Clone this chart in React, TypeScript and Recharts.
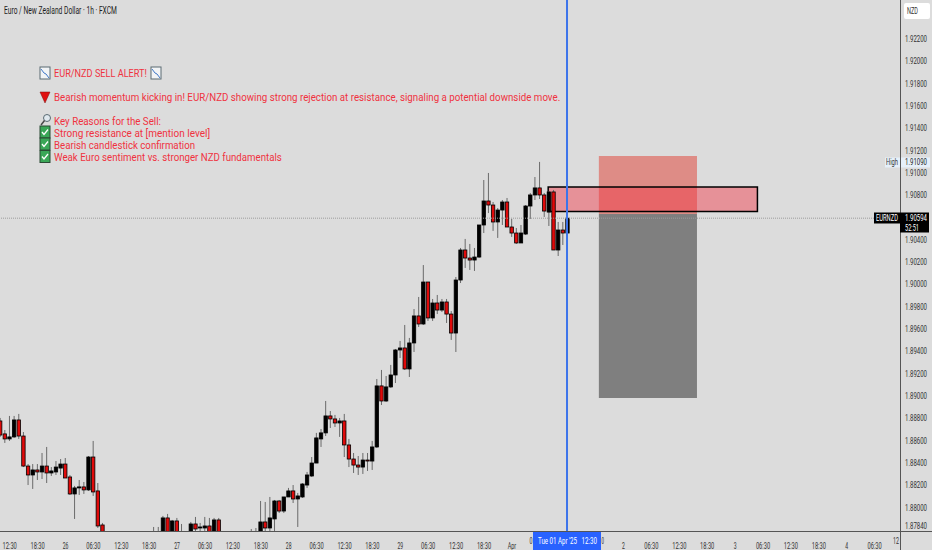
import React from "react";
import { ComposedChart, Bar, XAxis, YAxis, ReferenceArea, ReferenceLine } from "recharts";

const barIndexes = [
  0,1,2,3,4,5,6,7,8,9,10,11,12,13,14,15,16,17,18,19,20,21,22,
  33,34,35,36,37,38,39,
  41,42,43,44,45,46,47,
  54,55,56,57,58,59,60,61,62,63,64,65,66,67,68,69,70,71,72,73,74,75,76,77,78,79,80,
  81,82,83,84,85,86,87,88,89,90,91,92,93,94,95,96,97,98,99,100,101,102,
  103,104,105,106,107,108,109,110,111,112,113,114,115,116,117,118,119,120,121,122,
];
const opens = [
  1.88777,1.88661,1.88616,1.88634,1.88786,1.88642,1.88373,1.88293,1.88338,1.88320,1.88373,1.88311,1.88320,1.88355,1.88391,1.88275,1.88123,1.88177,1.88186,1.88159,1.88454,1.88150,1.87845,
  1.87660,1.87720,1.87740,1.87908,1.87760,1.87881,1.87760,
  1.87740,1.87854,1.87818,1.87818,1.87836,1.87740,1.87890,
  1.87700,1.87700,1.87740,1.87872,1.87818,1.87899,1.88060,1.87970,1.88096,1.88150,1.88078,1.88096,1.88203,1.88284,1.88400,1.88616,1.88670,1.88822,1.88795,1.88759,1.88777,1.88562,1.88436,1.88382,1.88364,1.88427,1.88418,
  1.88544,1.89091,1.88956,1.89082,1.89189,1.89413,1.89431,1.89243,1.89476,1.89718,1.89646,1.90022,1.89700,1.89834,1.89771,1.89843,1.89735,1.89565,1.90040,1.90309,1.90237,1.90219,
  1.90246,1.90533,1.90748,1.90712,1.90560,1.90667,1.90739,1.90515,1.90461,1.90372,1.90452,1.90703,1.90802,1.90865,1.90802,1.90649,1.90829,1.90309,1.90488,1.90461,
];
const highs = [
  1.88804,1.88696,1.88822,1.88822,1.88840,1.88678,1.88391,1.88391,1.88391,1.88490,1.88544,1.88364,1.88418,1.88436,1.88445,1.88293,1.88195,1.88248,1.88230,1.88463,1.88598,1.88221,1.87863,
  1.87827,1.87827,1.87926,1.87944,1.87890,1.87908,1.87854,
  1.87872,1.87917,1.87863,1.87917,1.87908,1.87908,1.87908,
  1.87809,1.87818,1.88060,1.88051,1.88096,1.88069,1.88069,1.88096,1.88177,1.88203,1.88132,1.88221,1.88320,1.88454,1.88670,1.88705,1.88956,1.88866,1.88831,1.88804,1.88840,1.88616,1.88490,1.88463,1.88490,1.88490,1.88598,
  1.89153,1.89234,1.89180,1.89279,1.89422,1.89494,1.89637,1.89521,1.89780,1.89888,1.90174,1.90022,1.89870,1.89906,1.89870,1.89870,1.89762,1.90067,1.90327,1.90408,1.90363,1.90327,
  1.90533,1.90936,1.90999,1.90739,1.90685,1.90757,1.90775,1.90587,1.90506,1.90533,1.90712,1.90820,1.90963,1.91098,1.90820,1.90838,1.90847,1.90560,1.90560,1.90594,
];
const lows = [
  1.88634,1.88580,1.88598,1.88625,1.88616,1.88364,1.88203,1.88168,1.88248,1.88257,1.88221,1.88284,1.88293,1.88293,1.88266,1.88114,1.87899,1.88114,1.88123,1.88150,1.88105,1.87818,1.87729,
  1.87650,1.87700,1.87700,1.87720,1.87740,1.87720,1.87700,
  1.87700,1.87700,1.87700,1.87700,1.87700,1.87720,1.87720,
  1.87680,1.87680,1.87700,1.87740,1.87740,1.87740,1.87952,1.87952,1.88096,1.88042,1.87827,1.88087,1.88177,1.88275,1.88400,1.88544,1.88642,1.88714,1.88723,1.88634,1.88454,1.88364,1.88311,1.88293,1.88302,1.88329,1.88338,
  1.88535,1.88920,1.88947,1.89073,1.89117,1.89341,1.89234,1.89171,1.89395,1.89619,1.89637,1.89673,1.89673,1.89735,1.89753,1.89655,1.89503,1.89395,1.90013,1.90148,1.90130,1.90121,
  1.90237,1.90461,1.90640,1.90480,1.90417,1.90533,1.90515,1.90426,1.90363,1.90372,1.90443,1.90587,1.90757,1.90766,1.90605,1.90524,1.90309,1.90255,1.90354,1.90426,
];
const closes = [
  1.88651,1.88616,1.88634,1.88786,1.88642,1.88373,1.88293,1.88338,1.88320,1.88373,1.88311,1.88329,1.88364,1.88391,1.88266,1.88123,1.88177,1.88186,1.88159,1.88454,1.88141,1.87836,1.87747,
  1.87720,1.87760,1.87908,1.87760,1.87881,1.87750,1.87750,
  1.87854,1.87809,1.87827,1.87836,1.87740,1.87890,1.87750,
  1.87720,1.87720,1.87872,1.87818,1.87908,1.88060,1.87970,1.88096,1.88150,1.88078,1.88105,1.88212,1.88293,1.88400,1.88625,1.88670,1.88822,1.88795,1.88759,1.88777,1.88562,1.88436,1.88382,1.88364,1.88427,1.88418,1.88544,
  1.89091,1.88956,1.89082,1.89189,1.89413,1.89431,1.89243,1.89476,1.89718,1.89646,1.90022,1.89700,1.89834,1.89771,1.89843,1.89735,1.89565,1.90040,1.90309,1.90237,1.90219,1.90246,
  1.90533,1.90748,1.90712,1.90560,1.90667,1.90739,1.90515,1.90461,1.90372,1.90461,1.90703,1.90802,1.90865,1.90802,1.90658,1.90829,1.90309,1.90488,1.90461,1.90594,
];

const priceTicks = [
  1.922,1.92,1.918,1.916,1.914,1.912,1.91,1.908,1.904,1.902,1.9,1.898,1.896,1.894,1.892,1.89,1.888,1.886,1.884,1.882,1.88,1.8784,
];
const timeTickIndexes = [
  2,8,14,20,26,32,38,44,50,56,62,68,74,80,86,92,98,104,110,134,140,146,152,158,164,170,176,182,188,
];
const timeTickLabels = [
  "12:30","18:30","26","06:30","12:30","18:30","27","06:30","12:30","18:30","28","06:30","12:30","18:30","29","06:30","12:30","18:30","Apr","2","06:30","12:30","18:30","3","06:30","12:30","18:30","4","06:30",
];
const lastPrice = 1.90594;
const highPrice = "1.91090";
const resistanceZone = { x1: 117.8, x2: 162.8, y1: 1.90654, y2: 1.90874 };
const targetZone = { x1: 128.7, x2: 149.8, y1: 1.90632, y2: 1.91152 };
const stopZone = { x1: 128.7, x2: 149.8, y1: 1.88983, y2: 1.90632 };
const cursorIndex = 121.85;

const alertLines = [
  { text: "EUR/NZD SELL ALERT!", x: 54, y: 77, w: 93 },
  { text: "Bearish momentum kicking in! EUR/NZD showing strong rejection at resistance, signaling a potential downside move.", x: 54, y: 101, w: 506 },
  { text: "Key Reasons for the Sell:", x: 54, y: 125, w: 107 },
  { text: "Strong resistance at [mention level]", x: 54, y: 137, w: 156 },
  { text: "Bearish candlestick confirmation", x: 54, y: 149, w: 141 },
  { text: "Weak Euro sentiment vs. stronger NZD fundamentals", x: 54, y: 161, w: 228 },
];

const candleRows = barIndexes.map((k, i) => ({
  k,
  open: opens[i],
  high: highs[i],
  low: lows[i],
  close: closes[i],
  range: [lows[i], highs[i]],
}));

const uiFont = "Roboto";
const BG = "#dcdcdc";

const measureCtx = document.createElement("canvas").getContext("2d");
function naturalWidth(text: string, size: number, family: string) {
  measureCtx!.font = `${size}px ${family}`;
  return measureCtx!.measureText(text).width;
}

function T(props: { x: number; y: number; w: number; fill?: string; size?: number; anchor?: string; family?: string; children: string }) {
  const { x, y, w, fill = "#333", size = 9, anchor = "start", family = uiFont, children } = props;
  const sx = w / naturalWidth(children, size, family);
  return (
    <text
      transform={`translate(${x},${y}) scale(${sx},1)`}
      fontFamily={family}
      fontSize={size}
      fill={fill}
      textAnchor={anchor}
    >
      {children}
    </text>
  );
}

function Candle(props: any) {
  const { x, y, width, height, payload } = props;
  if (payload == null) return null;
  const cx = x + width / 2;
  const perUnit = height / (payload.high - payload.low);
  const top = y + (payload.high - Math.max(payload.open, payload.close)) * perUnit;
  const bottom = y + (payload.high - Math.min(payload.open, payload.close)) * perUnit;
  const up = payload.close >= payload.open;
  return (
    <g>
      <line x1={cx} x2={cx} y1={y} y2={y + height} stroke="#6a6a6a" strokeWidth={1} />
      <rect
        x={cx - 1.7}
        y={top}
        width={3.4}
        height={Math.max(bottom - top, 1)}
        fill={up ? "#000000" : "#e00a0a"}
        stroke="#000000"
        strokeWidth={0.8}
      />
    </g>
  );
}

function TimeTick(props: any) {
  const { x, y, payload } = props;
  const label = timeTickLabels[timeTickIndexes.indexOf(payload.value)] ?? "";
  return <T x={x} y={y + 10} w={label.length * 2.85} anchor="middle">{label}</T>;
}

function PriceTick(props: any) {
  const { y, payload } = props;
  return <T x={905} y={y + 3} w={22}>{payload.value.toFixed(5)}</T>;
}

function ChartIcon({ x, y }: { x: number; y: number }) {
  return (
    <g>
      <rect x={x} y={y} width={10} height={12} fill="#f2f4f6" stroke="#5a6a72" strokeWidth={1} />
      <polyline
        points={`${x + 1},${y + 2} ${x + 4},${y + 6} ${x + 6},${y + 7} ${x + 9},${y + 11}`}
        fill="none"
        stroke="#3f77c8"
        strokeWidth={1}
      />
    </g>
  );
}

function CheckIcon({ y }: { y: number }) {
  return (
    <g>
      <rect x={40} y={y} width={10} height={12} fill="#3aa757" stroke="#2b4a35" strokeWidth={1} />
      <polyline
        points={`${42},${y + 6} ${44},${y + 8.5} ${48},${y + 3.5}`}
        fill="none"
        stroke="#ffffff"
        strokeWidth={1.3}
      />
    </g>
  );
}

function Overlay() {
  return (
    <svg width={932} height={550} style={{ position: "absolute", left: 0, top: 0 }}>
      <T x={4} y={14} w={113} size={10} fill="#1c1c1c">Euro / New Zealand Dollar · 1h · FXCM</T>

      {alertLines.map((l) => (
        <T key={l.text} x={l.x} y={l.y} w={l.w} size={10.2} fill="#f0323f">{l.text}</T>
      ))}
      <ChartIcon x={40} y={67} />
      <ChartIcon x={151} y={67} />
      <polygon points="40,92 50,92 45,103" fill="#e01010" stroke="#7a1010" strokeWidth={0.5} />
      <circle cx={47} cy={118} r={3.5} fill="#dfe8ee" stroke="#5a6a72" strokeWidth={1} />
      <line x1={44.5} y1={120.5} x2={41} y2={125} stroke="#4a4a4a" strokeWidth={1.5} />
      <CheckIcon y={126} />
      <CheckIcon y={138} />
      <CheckIcon y={150.5} />

      <line x1={0} x2={932} y1={531.5} y2={531.5} stroke="#555555" strokeWidth={1} />
      <line x1={900.5} x2={900.5} y1={0} y2={550} stroke="#555555" strokeWidth={1} />

      <rect x={904} y={3} width={26} height={16} rx={2} fill="#ffffff" />
      <T x={907} y={14} w={11}>NZD</T>

      <rect x={885} y={157.5} width={15} height={10} fill="#e6f0fa" />
      <rect x={901} y={157.5} width={29} height={10} fill="#e6f0fa" />
      <T x={886} y={165} w={12}>High</T>
      <T x={905} y={165} w={22} fill="#222">{highPrice}</T>

      <rect x={874} y={212.5} width={26} height={11} fill="#000" />
      <rect x={900} y={212.5} width={29} height={20} fill="#000" />
      <T x={876} y={221} w={22} fill="#fff">EURNZD</T>
      <T x={905} y={221} w={22} fill="#fff">{lastPrice.toFixed(5)}</T>
      <T x={905} y={231} w={14} fill="#fff">52:51</T>

      <rect x={533} y={532} width={68} height={18} fill="#2962ff" />
      <T x={538} y={544} w={59} fill="#fff">{"Tue 01 Apr '25\u00a0\u00a0\u00a012:30"}</T>
      <T x={529.5} y={544} w={3}>0</T>
      <T x={601.5} y={544} w={2.5}>0</T>
      <T x={893} y={544} w={6}>12</T>
    </svg>
  );
}

export default function App() {
  return (
    <div style={{ position: "fixed", left: 0, top: 0, width: 932, height: 550, background: BG, overflow: "hidden" }}>
      <ComposedChart
        width={932}
        height={550}
        data={candleRows}
        margin={{ top: 0, right: 0, left: 0, bottom: 0 }}
      >
        <XAxis
          dataKey="k"
          type="number"
          domain={[-0.086, 193.46]}
          allowDataOverflow
          ticks={timeTickIndexes}
          interval={0}
          height={19}
          axisLine={false}
          tickLine={false}
          tick={<TimeTick />}
        />
        <YAxis
          orientation="right"
          type="number"
          domain={[1.87791, 1.92549]}
          allowDataOverflow
          ticks={priceTicks}
          interval={0}
          width={32}
          axisLine={false}
          tickLine={false}
          tick={<PriceTick />}
        />
        <ReferenceLine y={lastPrice} stroke="#9c9c9c" strokeWidth={1} strokeDasharray="1 1" />
        <ReferenceArea {...stopZone} fill="#7f7f7f" fillOpacity={1} stroke="none" />
        <ReferenceArea {...targetZone} fill="rgb(226,21,6)" fillOpacity={0.4} stroke="none" />
        <ReferenceArea {...resistanceZone} fill="rgb(242,54,69)" fillOpacity={0.45} stroke="#000000" strokeWidth={1.5} />
        <Bar dataKey="range" barSize={5} isAnimationActive={false} shape={<Candle />} />
        <ReferenceLine x={cursorIndex} stroke="#3d74ea" strokeWidth={2} />
      </ComposedChart>
      <Overlay />
    </div>
  );
}
